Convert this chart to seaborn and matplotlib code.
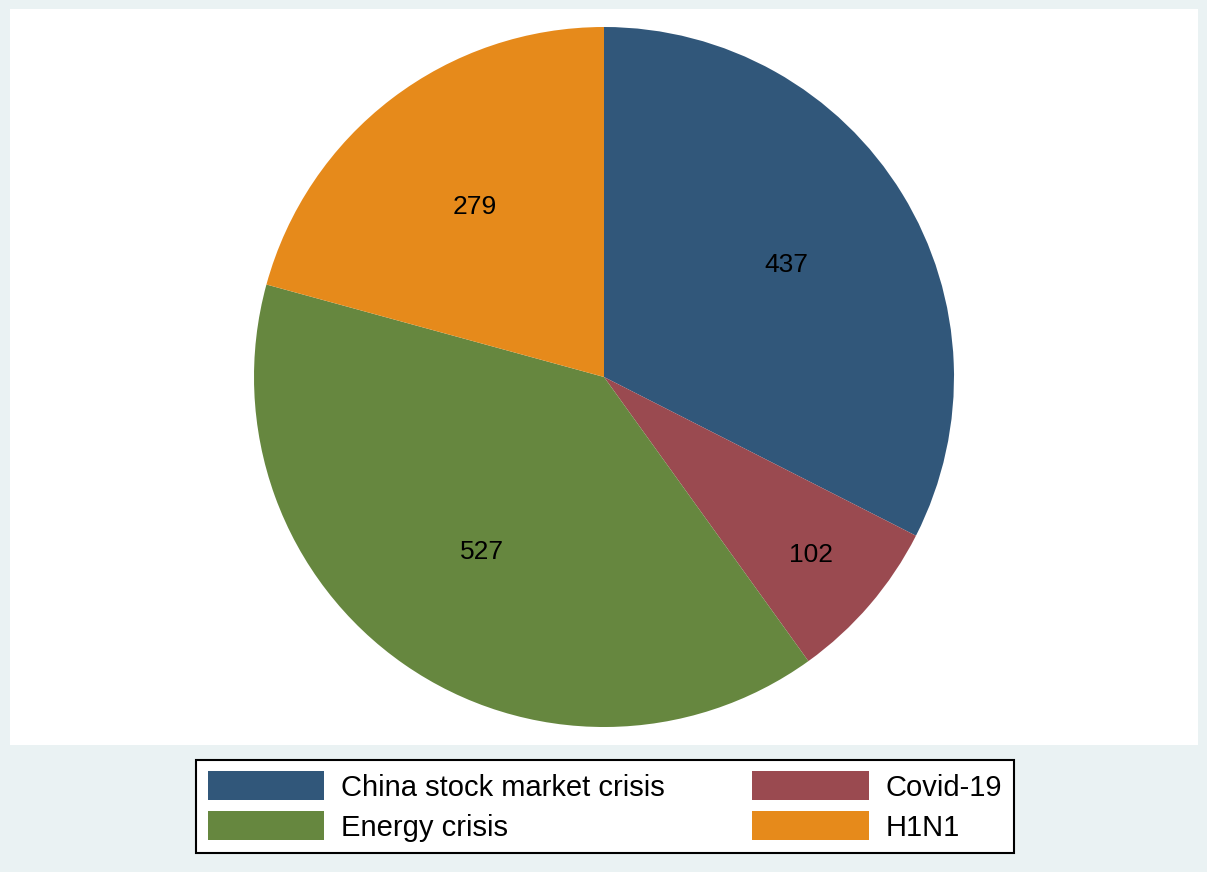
import numpy as np
import matplotlib
matplotlib.use("Agg")
import matplotlib.pyplot as plt
import seaborn as sns
from matplotlib.patches import Rectangle

# data
crises = ["China stock market crisis", "Covid-19", "Energy crisis", "H1N1"]
counts = [437, 102, 527, 279]
colors = ["#31577A", "#9A4A50", "#66873F", "#E68A1B"]

sns.set_theme(style="white")
plt.rcParams['font.family'] = ['Liberation Sans', 'DejaVu Sans']

fig = plt.figure(figsize=(12.07, 8.72), dpi=100)
fig.patch.set_facecolor("#EAF2F3")

# white plot region, behind the pie axes
fig.patches.append(Rectangle((10 / 1207, 127 / 872), 1188 / 1207, 736 / 872,
                             transform=fig.transFigure, facecolor="white",
                             edgecolor="none", zorder=-5))

ax = fig.add_axes([254 / 1207, 145 / 872, 700 / 1207, 700 / 872])
ax.patch.set_alpha(0)
palette = sns.color_palette(colors)

wedges, texts = ax.pie(counts, colors=palette, startangle=90, counterclock=False,
                       radius=1, wedgeprops=dict(linewidth=0))
ax.set_xlim(-1, 1)
ax.set_ylim(-1, 1)

# value labels, small slice pushed further out like Stata does
for w, val in zip(wedges, counts):
    mid = np.deg2rad((w.theta1 + w.theta2) / 2)
    r = 0.78 if val / sum(counts) < 0.1 else 0.61
    ax.text(r * np.cos(mid), r * np.sin(mid), str(val), ha="center", va="center",
            fontsize=19, color="black")

# legend: Stata fills rows first, matplotlib fills columns
order = [0, 2, 1, 3]
leg = fig.legend([wedges[i] for i in order], [crises[i] for i in order],
                 ncol=2, loc="center", bbox_to_anchor=(605 / 1207, 65.5 / 872),
                 fontsize=21, handlelength=4.0, handleheight=1.13,
                 handletextpad=0.58, columnspacing=3.0, labelspacing=0.34,
                 fancybox=False, frameon=True, borderpad=0.38,
                 facecolor="white", framealpha=1)
leg.get_frame().set_edgecolor("black")
leg.get_frame().set_linewidth(1.5)
for t in leg.get_texts():
    t.set_color("black")

fig.savefig("out.png", dpi=100, facecolor=fig.get_facecolor())
